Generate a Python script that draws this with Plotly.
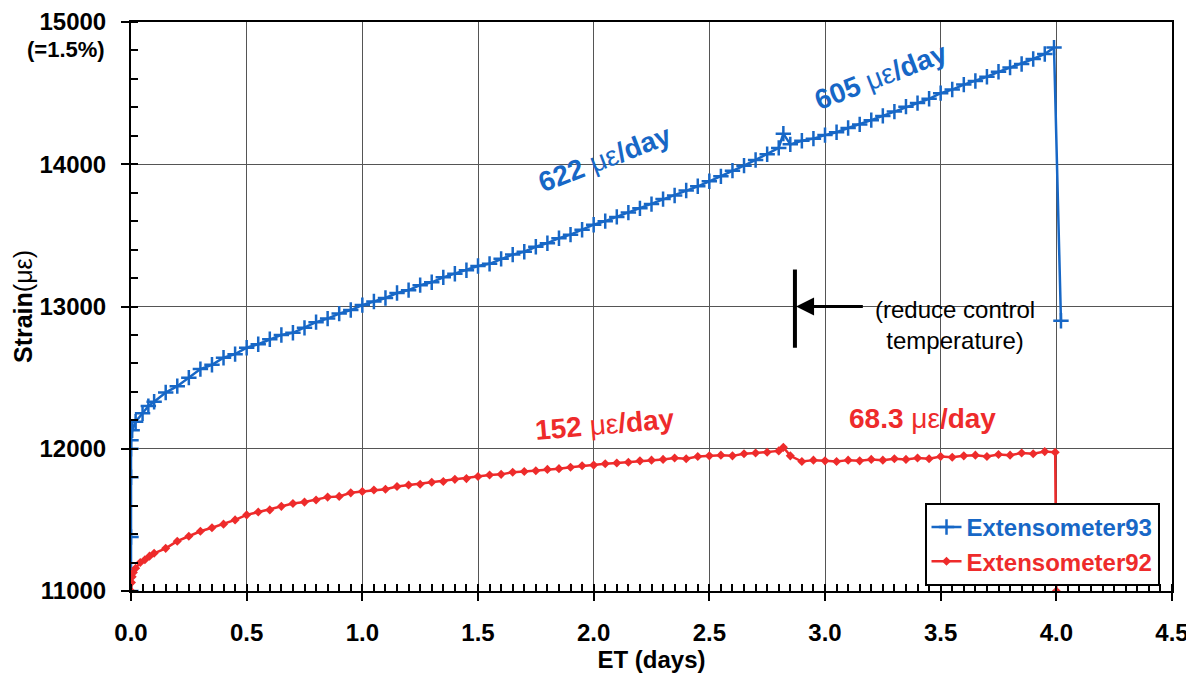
import plotly.graph_objects as go

# ---------------- data ----------------
blue_t = [0, 0, 0, 0, 0, 0.005, 0.02, 0.05, 0.075,
          0.10, 0.15, 0.20, 0.25, 0.30, 0.35, 0.40, 0.45, 0.50, 0.55,
          0.60, 0.65, 0.70, 0.75, 0.80, 0.85, 0.90, 0.95, 1.00, 1.05,
          1.10, 1.15, 1.20, 1.25, 1.30, 1.35, 1.40, 1.45, 1.50, 1.55,
          1.60, 1.65, 1.70, 1.75, 1.80, 1.85, 1.90, 1.95, 2.00, 2.05,
          2.10, 2.15, 2.20, 2.25, 2.30, 2.35, 2.40, 2.45, 2.50, 2.55,
          2.60, 2.65, 2.70, 2.75, 2.80, 2.82, 2.85, 2.90, 2.95, 3.00, 3.05,
          3.10, 3.15, 3.20, 3.25, 3.30, 3.35, 3.40, 3.45, 3.50, 3.55,
          3.60, 3.65, 3.70, 3.75, 3.80, 3.85, 3.90, 3.95, 3.99, 4.02]
blue_strain = [11000, 11380, 11800, 12000, 12060, 12130, 12190, 12250, 12300,
               12330, 12395, 12440, 12500, 12560, 12590, 12640, 12665, 12710, 12735,
               12770, 12800, 12815, 12850, 12890, 12915, 12950, 12975, 13010, 13035,
               13060, 13095, 13115, 13150, 13170, 13205, 13230, 13255, 13285, 13300,
               13335, 13365, 13385, 13420, 13445, 13480, 13505, 13540, 13575, 13600,
               13630, 13660, 13690, 13720, 13755, 13780, 13815, 13845, 13880, 13915,
               13955, 13990, 14030, 14070, 14115, 14215, 14140, 14165, 14180, 14205, 14225,
               14255, 14280, 14310, 14340, 14370, 14405, 14430, 14460, 14500, 14525,
               14560, 14585, 14615, 14650, 14680, 14705, 14740, 14775, 14820, 12900]

red_t = [0, 0.002, 0.005, 0.01, 0.02, 0.04, 0.06, 0.08,
         0.10, 0.15, 0.20, 0.25, 0.30, 0.35, 0.40, 0.45, 0.50, 0.55,
         0.60, 0.65, 0.70, 0.75, 0.80, 0.85, 0.90, 0.95, 1.00, 1.05,
         1.10, 1.15, 1.20, 1.25, 1.30, 1.35, 1.40, 1.45, 1.50, 1.55,
         1.60, 1.65, 1.70, 1.75, 1.80, 1.85, 1.90, 1.95, 2.00, 2.05,
         2.10, 2.15, 2.20, 2.25, 2.30, 2.35, 2.40, 2.45, 2.50, 2.55,
         2.60, 2.65, 2.70, 2.75, 2.80, 2.82, 2.85, 2.90, 2.95, 3.00, 3.05,
         3.10, 3.15, 3.20, 3.25, 3.30, 3.35, 3.40, 3.45, 3.50, 3.55,
         3.60, 3.65, 3.70, 3.75, 3.80, 3.85, 3.90, 3.95, 3.995, 4.0]
red_strain = [11000, 11060, 11100, 11130, 11160, 11200, 11220, 11245,
              11265, 11300, 11350, 11385, 11420, 11445, 11470, 11500, 11535, 11555,
              11570, 11595, 11615, 11625, 11640, 11660, 11665, 11690, 11700, 11710,
              11715, 11735, 11745, 11750, 11765, 11770, 11785, 11790, 11805, 11815,
              11820, 11835, 11840, 11845, 11855, 11860, 11870, 11880, 11885, 11895,
              11900, 11905, 11915, 11920, 11925, 11935, 11930, 11945, 11950, 11955,
              11950, 11965, 11970, 11975, 11985, 12010, 11950, 11910, 11920, 11915, 11910,
              11920, 11915, 11925, 11920, 11930, 11925, 11935, 11930, 11945, 11940,
              11950, 11955, 11945, 11960, 11955, 11970, 11965, 11980, 11975, 11000]

x_ticks = [0.0, 0.5, 1.0, 1.5, 2.0, 2.5, 3.0, 3.5, 4.0, 4.5]
y_ticks = [11000, 12000, 13000, 14000, 15000]

BLUE = "#1767c6"
RED = "#ee2b2b"
FONT = "Liberation Sans"

fig = go.Figure()
fig.add_trace(go.Scatter(
    x=blue_t, y=blue_strain, mode="lines+markers",
    name=f"<span style='color:{BLUE}'><b>Extensometer93</b></span>",
    line=dict(color=BLUE, width=2.5),
    marker=dict(symbol="cross-thin", size=11, line=dict(color=BLUE, width=2.5)),
))
fig.add_trace(go.Scatter(
    x=red_t, y=red_strain, mode="lines+markers",
    name=f"<span style='color:{RED}'><b>Extensometer92</b></span>",
    line=dict(color=RED, width=2.5),
    marker=dict(symbol="diamond", size=7, color=RED),
))

axis_common = dict(
    showline=True, linecolor="black", linewidth=2, mirror=True,
    showgrid=True, gridcolor="#555555", gridwidth=1,
    ticks="outside", ticklen=8, tickwidth=2, tickcolor="black",
    tickfont=dict(family=FONT, size=24, color="black", weight="bold"),
    zeroline=False, automargin=False,
)

fig.update_xaxes(
    range=[0, 4.5], tickvals=x_ticks, ticktext=[f"{v:.1f}" for v in x_ticks],
    minor=dict(dtick=0.05, ticks="inside", ticklen=7, tickwidth=1.5,
               tickcolor="black", showgrid=False),
    ticklabelstandoff=11,
    title=dict(text="<b>ET (days)</b>", font=dict(family=FONT, size=24, color="black"),
               standoff=4),
    **axis_common,
)
fig.update_yaxes(
    range=[11000, 15000], tickvals=y_ticks, ticktext=[str(v) for v in y_ticks],
    minor=dict(dtick=200, ticks="inside", ticklen=7, tickwidth=1.5,
               tickcolor="black", showgrid=False),
    ticklabelstandoff=10,
    title=dict(text="<b>Strain</b>(με)", font=dict(family=FONT, size=25, color="black"),
               standoff=0),
    **axis_common,
)

ann_font_b = dict(family=FONT, size=28, color=BLUE)
ann_font_r = dict(family=FONT, size=28, color=RED)
annotations = [
    dict(x=2.05, y=14040, text="<b>622</b> με<b>/day</b>", textangle=-21,
         showarrow=False, font=ann_font_b),
    dict(x=3.24, y=14620, text="<b>605</b> με<b>/day</b>", textangle=-21,
         showarrow=False, font=ann_font_b),
    dict(x=2.05, y=12170, text="<b>152</b> με<b>/day</b>", textangle=-5,
         showarrow=False, font=ann_font_r),
    dict(x=3.42, y=12215, text="<b>68.3</b> με<b>/day</b>", textangle=0,
         showarrow=False, font=ann_font_r),
    dict(x=3.56, y=12870, text="(reduce control<br>temperature)", showarrow=False,
         align="center", font=dict(family=FONT, size=24, color="black")),
    dict(x=2.875, y=13000, ax=3.17, ay=13000, axref="x", ayref="y",
         text="", showarrow=True, arrowhead=2, arrowsize=1.2, arrowwidth=3,
         arrowcolor="black"),
    dict(xref="paper", yref="y", x=0, y=15000, xanchor="right", yanchor="top",
         xshift=-24, yshift=-13, text="<b>(=1.5%)</b>", showarrow=False,
         font=dict(family=FONT, size=22, color="black")),
]

fig.add_shape(type="line", x0=2.87, x1=2.87, y0=12710, y1=13260,
              line=dict(color="black", width=4))

# the page body adds an 8px offset, margins compensate for it
fig.update_layout(
    width=1194, height=685,
    margin=dict(l=123, r=30, t=14, b=102),
    paper_bgcolor="white", plot_bgcolor="white",
    font=dict(family=FONT, color="black"),
    annotations=annotations,
    legend=dict(x=0.988, y=0.009, xanchor="right", yanchor="bottom",
                bgcolor="white", bordercolor="black", borderwidth=2,
                font=dict(family=FONT, size=24), itemwidth=30,
                tracegroupgap=0),
    showlegend=True,
)

fig.write_html("out.html")
